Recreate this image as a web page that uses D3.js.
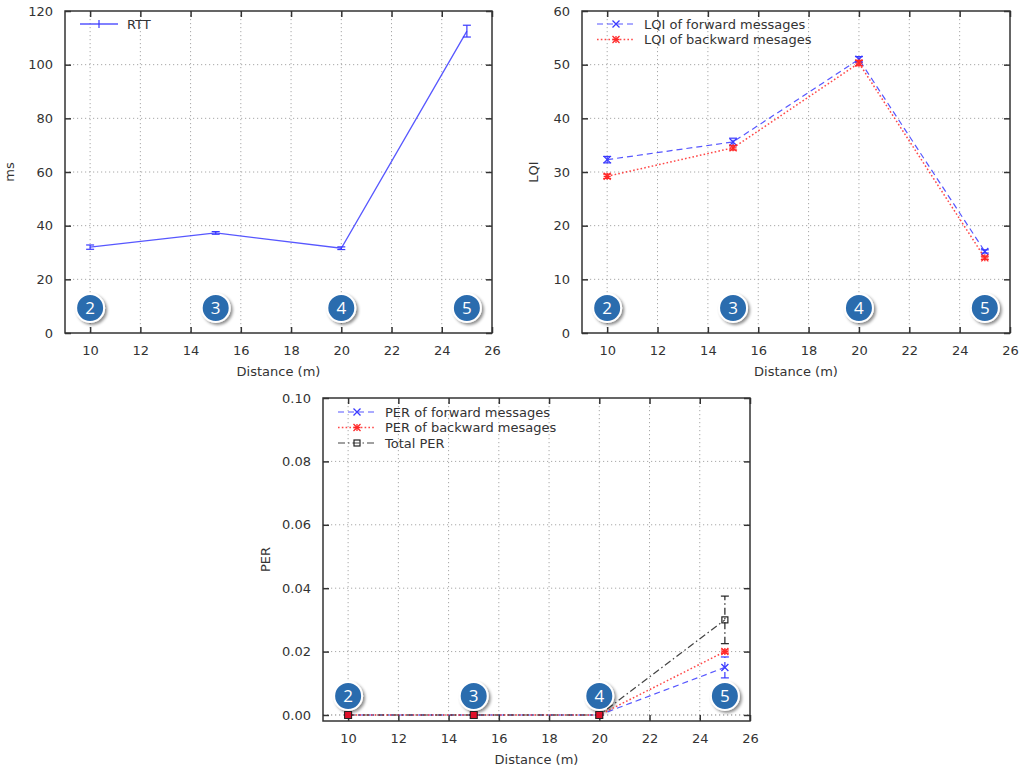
<!DOCTYPE html>
<html>
<head>
<meta charset="utf-8">
<script src="https://cdn.jsdelivr.net/npm/d3@7"></script>
<style>
  body { margin: 0; background: #fff; }
  svg { display: block; font-family: "DejaVu Sans", Verdana, sans-serif; }
</style>
</head>
<body>
<svg id="chart" width="1024" height="771"></svg>
<script>
// ---------- data ----------
const distances = [10, 15, 20, 25];
const badgeLabels = ["2", "3", "4", "5"];
const xTicks = [10, 12, 14, 16, 18, 20, 22, 24, 26];

const rttValues = [32.0, 37.3, 31.6, 112.5];
const rttErrors = [0.8, 0.5, 0.5, 2.2];
const rttTicks = [0, 20, 40, 60, 80, 100, 120];

const lqiForward = [32.3, 35.6, 51.0, 15.2];
const lqiForwardErr = [0.6, 0.7, 0.5, 0.3];
const lqiBackward = [29.2, 34.5, 50.3, 14.0];
const lqiBackwardErr = [0.4, 0.4, 0.5, 0.3];
const lqiTicks = [0, 10, 20, 30, 40, 50, 60];

const perForward = [0, 0, 0, 0.015];
const perForwardErr = [0, 0, 0, 0.0033];
const perBackward = [0, 0, 0, 0.020];
const perBackwardErr = [0, 0, 0, 0.0005];
const perTotal = [0, 0, 0, 0.030];
const perTotalErr = [0, 0, 0, 0.0075];
const perTicks = [0, 0.02, 0.04, 0.06, 0.08, 0.10];

// ---------- styles ----------
const BLUE = "#3a3aff";
const RED = "#ff2828";
const BLACK = "#222";
const TXT = "#333";
const FS = 13;

const svg = d3.select("#chart");
const defs = svg.append("defs");
const f = defs.append("filter").attr("id", "shadow").attr("x", "-50%").attr("y", "-50%").attr("width", "200%").attr("height", "200%");
f.append("feDropShadow").attr("dx", 2).attr("dy", 2).attr("stdDeviation", 1.8).attr("flood-color", "#000").attr("flood-opacity", 0.45);

function marker(g, type, x, y, color) {
  const s = 3.5;
  if (type === "x" || type === "star") {
    g.append("path").attr("d", `M${x - s},${y - s}L${x + s},${y + s}M${x - s},${y + s}L${x + s},${y - s}`)
      .attr("stroke", color).attr("stroke-width", 1.3).attr("fill", "none");
  }
  if (type === "star") {
    g.append("path").attr("d", `M${x - s},${y}L${x + s},${y}M${x},${y - s}L${x},${y + s}`)
      .attr("stroke", color).attr("stroke-width", 1.3).attr("fill", "none");
  }
  if (type === "square") {
    g.append("rect").attr("x", x - 3).attr("y", y - 3).attr("width", 6).attr("height", 6)
      .attr("stroke", color).attr("stroke-width", 1.2).attr("fill", "none");
  }
}

function panel(opt) {
  const { left, right, top, bottom, yDomain, yTicks, yFormat, yLabel, yLabelX, series, legendX, legendY } = opt;
  const g = svg.append("g");
  const x = d3.scaleLinear().domain([9, 26]).range([left, right]);
  const y = d3.scaleLinear().domain(yDomain).range([bottom, top]);

  // grid
  const grid = g.append("g").attr("stroke", "#a8a8a8").attr("stroke-width", 1).attr("stroke-dasharray", "1.2,2.8");
  xTicks.filter(t => t > 9 && t < 26).forEach(t => {
    grid.append("line").attr("x1", x(t)).attr("x2", x(t)).attr("y1", top).attr("y2", bottom);
  });
  yTicks.filter(t => y(t) > top + 1 && y(t) < bottom - 0.5).forEach(t => {
    grid.append("line").attr("x1", left).attr("x2", right).attr("y1", y(t)).attr("y2", y(t));
  });
  if (yDomain[0] < 0) {
    grid.append("line").attr("x1", left).attr("x2", right).attr("y1", y(0)).attr("y2", y(0));
  }

  // axes (inward ticks, mirrored)
  const ax = g.append("g").attr("color", TXT);
  const bottomAxis = d3.axisBottom(x).tickValues(xTicks).tickSize(-6).tickPadding(13).tickFormat(d3.format("d"));
  ax.append("g").attr("transform", `translate(0,${bottom})`).call(bottomAxis)
    .call(s => s.select(".domain").remove())
    .call(s => s.selectAll("text").attr("font-size", FS).attr("fill", TXT).attr("font-family", "DejaVu Sans"));
  const topAxis = d3.axisTop(x).tickValues(xTicks).tickSize(-6).tickFormat("");
  ax.append("g").attr("transform", `translate(0,${top})`).call(topAxis).call(s => s.select(".domain").remove());
  const leftAxis = d3.axisLeft(y).tickValues(yTicks).tickSize(-6).tickPadding(12).tickFormat(yFormat);
  ax.append("g").attr("transform", `translate(${left},0)`).call(leftAxis)
    .call(s => s.select(".domain").remove())
    .call(s => s.selectAll("text").attr("font-size", FS).attr("fill", TXT).attr("font-family", "DejaVu Sans"));
  const rightAxis = d3.axisRight(y).tickValues(yTicks).tickSize(-6).tickFormat("");
  ax.append("g").attr("transform", `translate(${right},0)`).call(rightAxis).call(s => s.select(".domain").remove());
  ax.selectAll(".tick line").attr("stroke", "#333").attr("stroke-width", 1.5);

  g.append("rect").attr("x", left).attr("y", top).attr("width", right - left).attr("height", bottom - top)
    .attr("fill", "none").attr("stroke", "#333").attr("stroke-width", 1.5);

  // labels
  g.append("text").attr("x", (left + right) / 2).attr("y", bottom + 43).attr("text-anchor", "middle")
    .attr("font-size", FS).attr("fill", TXT).text("Distance (m)");
  g.append("text").attr("transform", `translate(${yLabelX},${(top + bottom) / 2}) rotate(-90)`)
    .attr("text-anchor", "middle").attr("font-size", FS).attr("fill", TXT).text(yLabel);

  // badges
  distances.forEach((d, i) => {
    const bx = x(d), by = bottom - 25;
    g.append("circle").attr("cx", bx).attr("cy", by).attr("r", 14).attr("fill", "#2c6cae")
      .attr("stroke", "#fff").attr("stroke-width", 2).attr("filter", "url(#shadow)");
    g.append("text").attr("x", bx).attr("y", by + 6).attr("text-anchor", "middle").attr("font-size", 17)
      .attr("font-family", "Open Sans, DejaVu Sans, sans-serif").attr("fill", "#fff").text(badgeLabels[i]);
  });

  // series
  series.forEach(s => {
    const sg = g.append("g");
    const line = d3.line().x((d, i) => x(distances[i])).y(d => y(d));
    sg.append("path").datum(s.values).attr("d", line).attr("fill", "none")
      .attr("stroke", s.color).attr("stroke-width", s.width || 1.2).attr("stroke-dasharray", s.dash || null)
      .attr("stroke-opacity", 0.85);
    s.values.forEach((v, i) => {
      const cx = x(distances[i]);
      const e = s.errors[i];
      const y1 = y(v - e), y2 = y(v + e);
      const eg = sg.append("g").attr("stroke", s.color).attr("stroke-width", 1.2).attr("stroke-dasharray", s.dash || null);
      if (Math.abs(y1 - y2) > 1.5) {
        eg.append("line").attr("x1", cx).attr("x2", cx).attr("y1", y1).attr("y2", y2);
      }
      sg.append("line").attr("x1", cx - 4).attr("x2", cx + 4).attr("y1", y1).attr("y2", y1).attr("stroke", s.color).attr("stroke-width", 1.2);
      sg.append("line").attr("x1", cx - 4).attr("x2", cx + 4).attr("y1", y2).attr("y2", y2).attr("stroke", s.color).attr("stroke-width", 1.2);
      if (s.marker) marker(sg, s.marker, cx, y(v), s.color);
      if (s.fillSquareAtZero && v === 0) {
        sg.append("rect").attr("x", cx - 3.5).attr("y", y(v) - 3.5).attr("width", 7).attr("height", 7)
          .attr("fill", "#e0102a").attr("stroke", "#222").attr("stroke-width", 1);
      }
    });
  });

  // legend
  series.forEach((s, i) => {
    const ly = legendY + i * 15.5;
    const lg = g.append("g");
    lg.append("line").attr("x1", legendX).attr("x2", legendX + 38).attr("y1", ly).attr("y2", ly)
      .attr("stroke", s.color).attr("stroke-width", s.width || 1.2).attr("stroke-dasharray", s.dash || null).attr("stroke-opacity", 0.85);
    if (s.marker) marker(lg, s.marker, legendX + 19, ly, s.color);
    else lg.append("line").attr("x1", legendX + 19).attr("x2", legendX + 19).attr("y1", ly - 4).attr("y2", ly + 4)
      .attr("stroke", s.color).attr("stroke-width", 1.2);
    lg.append("text").attr("x", legendX + 47).attr("y", ly + 4.5).attr("font-size", FS).attr("fill", TXT).text(s.name);
  });
}

panel({
  left: 65, right: 492, top: 11, bottom: 333,
  yDomain: [0, 120], yTicks: rttTicks, yFormat: d3.format("d"), yLabel: "ms", yLabelX: 14,
  legendX: 80, legendY: 24,
  series: [{ name: "RTT", values: rttValues, errors: rttErrors, color: BLUE, width: 1.3 }]
});

panel({
  left: 582, right: 1010, top: 11, bottom: 333,
  yDomain: [0, 60], yTicks: lqiTicks, yFormat: d3.format("d"), yLabel: "LQI", yLabelX: 538,
  legendX: 597, legendY: 24,
  series: [
    { name: "LQI of forward messages", values: lqiForward, errors: lqiForwardErr, color: BLUE, dash: "6,4", marker: "x" },
    { name: "LQI of backward mesages", values: lqiBackward, errors: lqiBackwardErr, color: RED, dash: "1.6,2.2", width: 1.5, marker: "star" }
  ]
});

panel({
  left: 323, right: 750, top: 398, bottom: 721,
  yDomain: [-0.0019, 0.1], yTicks: perTicks, yFormat: d3.format(".2f"), yLabel: "PER", yLabelX: 270,
  legendX: 338, legendY: 412,
  series: [
    { name: "PER of forward messages", values: perForward, errors: perForwardErr, color: BLUE, dash: "6,4", marker: "x" },
    { name: "PER of backward mesages", values: perBackward, errors: perBackwardErr, color: RED, dash: "1.6,2.2", width: 1.5, marker: "star" },
    { name: "Total PER", values: perTotal, errors: perTotalErr, color: BLACK, dash: "7,3,1.5,3", marker: "square", fillSquareAtZero: true }
  ]
});
</script>
</body>
</html>
